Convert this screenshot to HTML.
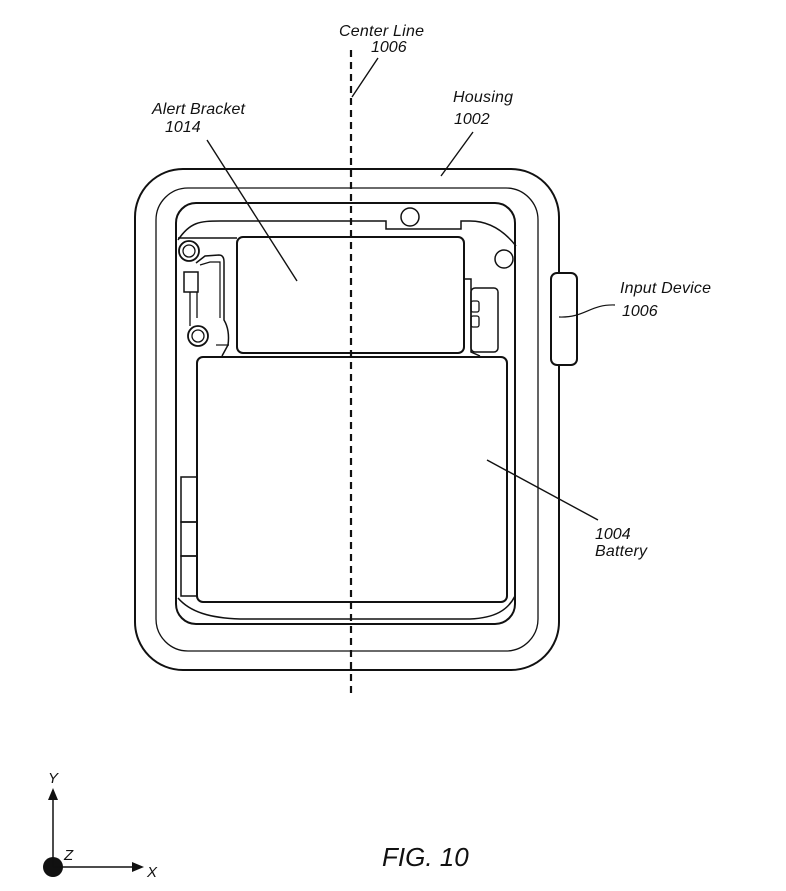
<!DOCTYPE html>
<html><head><style>body{margin:0;background:#fff}svg{display:block}text{font-family:"Liberation Sans",sans-serif;font-style:italic;fill:#111}</style></head>
<body>
<svg width="786" height="891" viewBox="0 0 786 891" xmlns="http://www.w3.org/2000/svg" fill="none" stroke="#111">
<!-- housing -->
<rect x="135" y="169" width="424" height="501" rx="48" stroke-width="2"/>
<rect x="156" y="188" width="382" height="463" rx="32" stroke-width="1.3"/>
<rect x="176" y="203" width="339" height="421" rx="20" stroke-width="2"/>
<!-- inner frame top contour -->
<path d="M178 240 C190 222 200 221 220 221 L386 221 L386 229 L461 229 L461 221 L470 221 C490 221 505 232 516 246" stroke-width="1.5"/>
<line x1="178" y1="238" x2="237" y2="238" stroke-width="1.5"/>
<circle cx="410" cy="217" r="9" stroke-width="1.5"/>
<circle cx="504" cy="259" r="9" stroke-width="1.5"/>
<!-- alert bracket -->
<rect x="237" y="237" width="227" height="116" rx="6" stroke-width="2"/>
<!-- right small parts -->
<path d="M464 279 L471 279 L471 352 L480 356" stroke-width="1.5"/>
<rect x="471" y="288" width="27" height="64" rx="4" stroke-width="1.5"/>
<rect x="471" y="301" width="8" height="11" rx="2" stroke-width="1.3"/>
<rect x="471" y="316" width="8" height="11" rx="2" stroke-width="1.3"/>
<!-- left mechanism -->
<circle cx="189" cy="251" r="10" stroke-width="1.8"/>
<circle cx="189" cy="251" r="6" stroke-width="1.3"/>
<circle cx="198" cy="336" r="10" stroke-width="1.8"/>
<circle cx="198" cy="336" r="6" stroke-width="1.3"/>
<rect x="184" y="272" width="14" height="20" stroke-width="1.5"/>
<path d="M190 292 L190 326 M197 292 L197 318" stroke-width="1.3"/>
<path d="M196 263 L205 256 L219 255 Q224 255 224 262 L224 320 Q230 330 228 345 L222 356" stroke-width="1.5"/>
<path d="M200 265 L210 262 L220 262 L220 318" stroke-width="1.2"/>
<line x1="216" y1="345" x2="229" y2="345" stroke-width="1.2"/>
<!-- battery -->
<rect x="197" y="357" width="310" height="245" rx="6" stroke-width="2"/>
<path d="M178 598 C190 612 210 618 240 619 L470 619 C495 618 508 610 515 596" stroke-width="1.5"/>
<rect x="181" y="477" width="16" height="45" stroke-width="1.5"/>
<rect x="181" y="522" width="16" height="34" stroke-width="1.5"/>
<rect x="181" y="556" width="16" height="40" stroke-width="1.5"/>
<!-- input device -->
<rect x="551" y="273" width="26" height="92" rx="6" stroke-width="2" fill="#fff"/>
<!-- center line -->
<line x1="351" y1="50" x2="351" y2="695" stroke-width="2.2" stroke-dasharray="7,5"/>
<!-- leaders -->
<line x1="378" y1="58" x2="352" y2="97" stroke-width="1.4"/>
<line x1="473" y1="132" x2="441" y2="176" stroke-width="1.4"/>
<line x1="207" y1="140" x2="297" y2="281" stroke-width="1.4"/>
<line x1="487" y1="460" x2="598" y2="520" stroke-width="1.4"/>
<path d="M559 317 C585 318 590 304 615 305" stroke-width="1.2"/>
<!-- axes -->
<circle cx="53" cy="867" r="10" fill="#111" stroke="none"/>
<line x1="53" y1="867" x2="53" y2="800" stroke-width="1.5"/>
<path d="M53 788 L48 800 L58 800 Z" fill="#111" stroke="none"/>
<line x1="53" y1="867" x2="135" y2="867" stroke-width="1.5"/>
<path d="M144 867 L132 862 L132 872 Z" fill="#111" stroke="none"/>
<g stroke="none">
<text x="48" y="783" font-size="15">Y</text>
<text x="64" y="860" font-size="15">Z</text>
<text x="147" y="877" font-size="15">X</text>
<text x="382" y="866" font-size="26">FIG. 10</text>
<text x="339" y="36" font-size="16" textLength="85">Center Line</text>
<text x="371" y="52" font-size="16">1006</text>
<text x="453" y="102" font-size="16" textLength="60">Housing</text>
<text x="454" y="124" font-size="16">1002</text>
<text x="152" y="114" font-size="16" textLength="93">Alert Bracket</text>
<text x="165" y="132" font-size="16">1014</text>
<text x="620" y="293" font-size="16" textLength="91">Input Device</text>
<text x="622" y="316" font-size="16">1006</text>
<text x="595" y="539" font-size="16">1004</text>
<text x="595" y="556" font-size="16" textLength="52">Battery</text>
</g>
</svg>
</body></html>
